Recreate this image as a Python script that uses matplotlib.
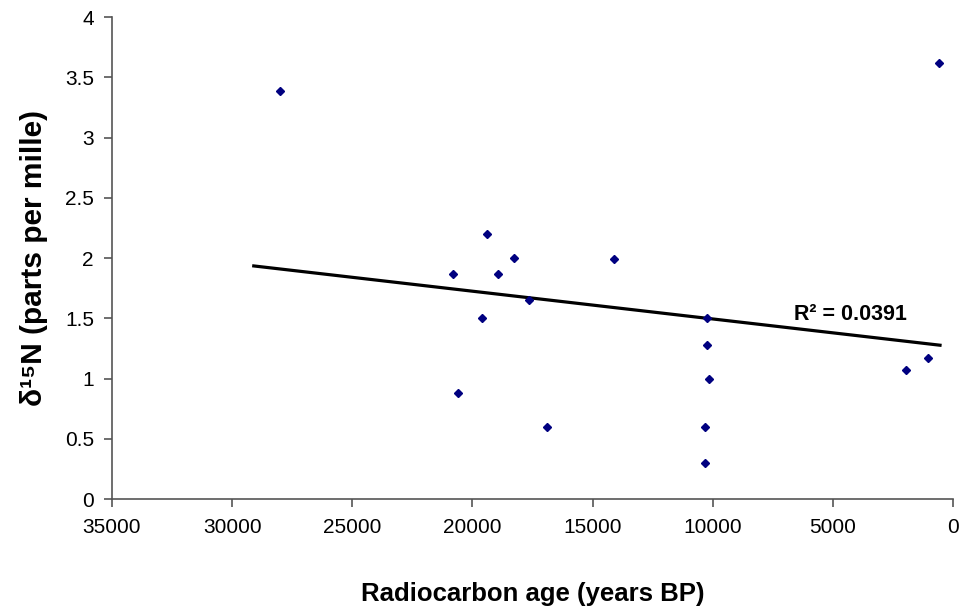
import numpy as np
import matplotlib
matplotlib.use("Agg")
import matplotlib.pyplot as plt

plt.rcParams['font.family'] = ['Liberation Sans', 'DejaVu Sans']

# Radiocarbon age (years BP) and δ15N (parts per mille) of each sample
age_bp = [28000, 19400, 18250, 20800, 18950, 17650, 19600, 14100,
          10250, 10250, 10150, 10300, 10300, 600, 1050, 1950, 20600, 16900]
d15n = [3.39, 2.20, 2.00, 1.87, 1.87, 1.65, 1.50, 1.99,
        1.50, 1.28, 1.00, 0.60, 0.30, 3.62, 1.17, 1.07, 0.88, 0.60]

# span of the linear trend line
trend_span = [29100, 540]
r2_label = "R² = 0.0391"

x_ticks = [35000, 30000, 25000, 20000, 15000, 10000, 5000, 0]
y_ticks = [0, 0.5, 1, 1.5, 2, 2.5, 3, 3.5, 4]

fig = plt.figure(figsize=(9.63, 6.12), dpi=100)
ax = fig.add_axes([0.1163, 0.1846, 0.8733, 0.7876])

ax.plot(age_bp, d15n, linestyle='none', marker='D', markersize=4.5,
        color='#000080', zorder=3)

slope, intercept = np.polyfit(age_bp, d15n, 1)
tx = np.array(trend_span, dtype=float)
ax.plot(tx, slope * tx + intercept, color='black', linewidth=2.3, zorder=2)

ax.text(907, 297, r2_label, transform=None, fontsize=15.5, fontweight='bold',
        ha='right', va='center')

ax.set_xlim(35000, 0)
ax.set_ylim(0, 4)
ax.set_xticks(x_ticks)
ax.set_xticklabels([str(v) for v in x_ticks])
ax.set_yticks(y_ticks)
ax.set_yticklabels([f"{v:g}" for v in y_ticks])

for side in ('top', 'right'):
    ax.spines[side].set_visible(False)
for side in ('left', 'bottom'):
    ax.spines[side].set_color('#555555')
    ax.spines[side].set_linewidth(1.2)

ax.tick_params(axis='both', direction='out', length=6, width=1.2,
               color='#555555', labelsize=15, labelcolor='black')
ax.tick_params(axis='x', pad=8)
ax.tick_params(axis='y', pad=7)

ax.set_xlabel("Radiocarbon age (years BP)", fontsize=18.5, fontweight='bold',
              labelpad=32)
ax.set_ylabel("δ¹⁵N (parts per mille)", fontsize=21.5, fontweight='bold',
              labelpad=12)

fig.savefig("out.png", dpi=100)
